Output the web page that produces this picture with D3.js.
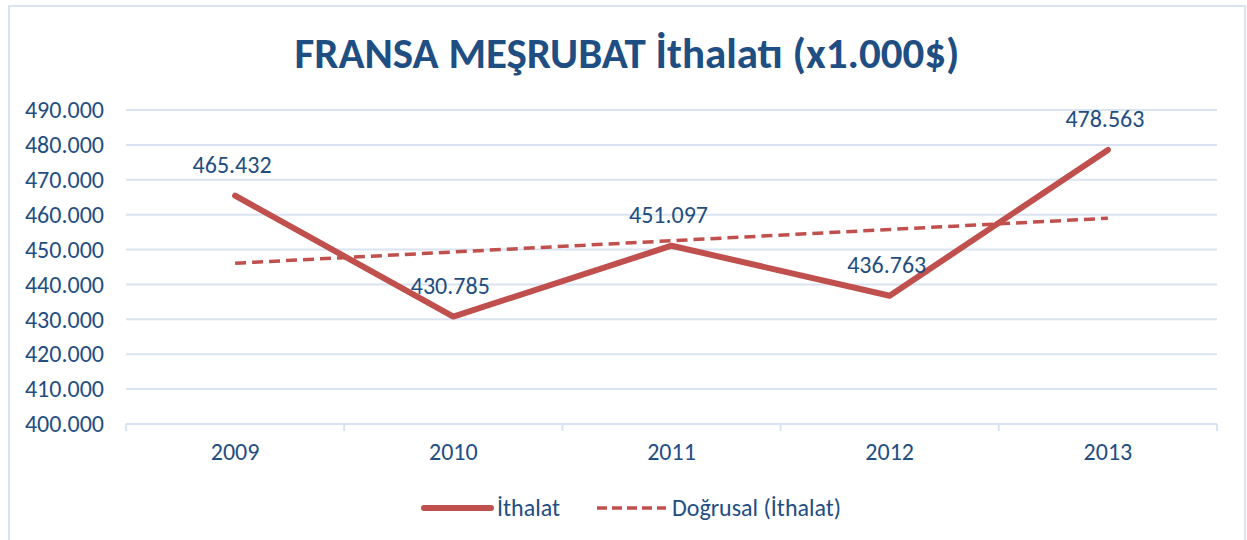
<!DOCTYPE html>
<html>
<head>
<meta charset="utf-8">
<script src="https://cdn.jsdelivr.net/npm/d3@7"></script>
<style>
  body { margin: 0; background: #fff; }
  text { font-family: Calibri, Carlito, "Open Sans", sans-serif; }
</style>
</head>
<body>
<script>
// данные
var years = ["2009", "2010", "2011", "2012", "2013"];
var ithalat = [465432, 430785, 451097, 436763, 478563];
var yTicks = [400000, 410000, 420000, 430000, 440000, 450000, 460000, 470000, 480000, 490000];

var W = 1247, H = 540;
var blue = "#1f4e82", red = "#c0504d", grid = "#d9e3f1";

var svg = d3.select("body").append("svg")
    .attr("width", W)
    .attr("height", H);

// рамка диаграммы
svg.append("rect")
    .attr("x", 9).attr("y", 6)
    .attr("width", 1236).attr("height", 545)
    .style("fill", "none")
    .style("stroke", grid)
    .style("stroke-width", 2);

// заголовок
svg.append("text")
    .attr("x", 627).attr("y", 68)
    .attr("text-anchor", "middle")
    .style("font-size", "43px")
    .style("font-weight", "bold")
    .style("fill", blue)
    .text("FRANSA MEŞRUBAT İthalatı (x1.000$)");

var x = d3.scaleBand().domain(years).range([126, 1217]);
var y = d3.scaleLinear().domain([400000, 490000]).range([424, 110]);
var fmt = function (v) { return d3.format(",")(v).replace(/,/g, "."); };

// сетка
svg.append("g").selectAll("line")
    .data(yTicks.slice(1))
    .enter().append("line")
    .attr("x1", 126).attr("x2", 1217)
    .attr("y1", function (d) { return y(d); })
    .attr("y2", function (d) { return y(d); })
    .style("stroke", grid)
    .style("stroke-width", 2);

// ось Y
var yAxis = svg.append("g")
    .attr("transform", "translate(126,0)")
    .call(d3.axisLeft(y).tickValues(yTicks).tickFormat(fmt).tickSize(0).tickPadding(22));
yAxis.select(".domain").remove();
yAxis.selectAll("text")
    .style("font-size", "24px")
    .style("fill", blue);

// ось X
var xAxis = svg.append("g")
    .attr("transform", "translate(0,424)")
    .call(d3.axisBottom(x).tickSize(0).tickPadding(19));
xAxis.select(".domain").remove();
xAxis.selectAll("text")
    .style("font-size", "24px")
    .style("fill", blue);

svg.append("line")
    .attr("x1", 126).attr("x2", 1217)
    .attr("y1", 424).attr("y2", 424)
    .style("stroke", grid)
    .style("stroke-width", 2);

var bounds = years.map(function (d) { return x(d); }).concat([x.range()[1]]);
svg.append("g").selectAll("line")
    .data(bounds)
    .enter().append("line")
    .attr("x1", function (d) { return d; })
    .attr("x2", function (d) { return d; })
    .attr("y1", 424).attr("y2", 431)
    .style("stroke", grid)
    .style("stroke-width", 2);

var cx = function (d, i) { return x(years[i]) + x.bandwidth() / 2; };

// линейный тренд (МНК)
var n = ithalat.length;
var mx = (n - 1) / 2, my = d3.mean(ithalat);
var slope = d3.sum(ithalat, function (v, i) { return (i - mx) * (v - my); }) /
            d3.sum(ithalat, function (v, i) { return (i - mx) * (i - mx); });
var trend = ithalat.map(function (v, i) { return my + slope * (i - mx); });

var line = d3.line()
    .x(function (d, i) { return cx(d, i); })
    .y(function (d) { return y(d); });

svg.append("path")
    .datum(trend)
    .attr("d", line)
    .style("fill", "none")
    .style("stroke", red)
    .style("stroke-width", 3.5)
    .style("stroke-dasharray", "11,6");

svg.append("path")
    .datum(ithalat)
    .attr("d", line)
    .style("fill", "none")
    .style("stroke", red)
    .style("stroke-width", 6)
    .style("stroke-linecap", "round")
    .style("stroke-linejoin", "round");

// подписи значений
svg.append("g").selectAll("text")
    .data(ithalat)
    .enter().append("text")
    .attr("x", function (d, i) { return cx(d, i) - 3; })
    .attr("y", function (d) { return y(d) - 23; })
    .attr("text-anchor", "middle")
    .style("font-size", "24px")
    .style("fill", blue)
    .text(fmt);

// легенда
var legend = svg.append("g");
legend.append("line")
    .attr("x1", 424).attr("x2", 491).attr("y1", 508).attr("y2", 508)
    .style("stroke", red).style("stroke-width", 6).style("stroke-linecap", "round");
legend.append("text")
    .attr("x", 497).attr("y", 516)
    .style("font-size", "24px").style("fill", blue)
    .text("İthalat");
legend.append("line")
    .attr("x1", 597).attr("x2", 666).attr("y1", 508).attr("y2", 508)
    .style("stroke", red).style("stroke-width", 3.5).style("stroke-dasharray", "10,5");
legend.append("text")
    .attr("x", 672).attr("y", 516)
    .style("font-size", "24px").style("fill", blue)
    .text("Doğrusal (İthalat)");
</script>
</body>
</html>
